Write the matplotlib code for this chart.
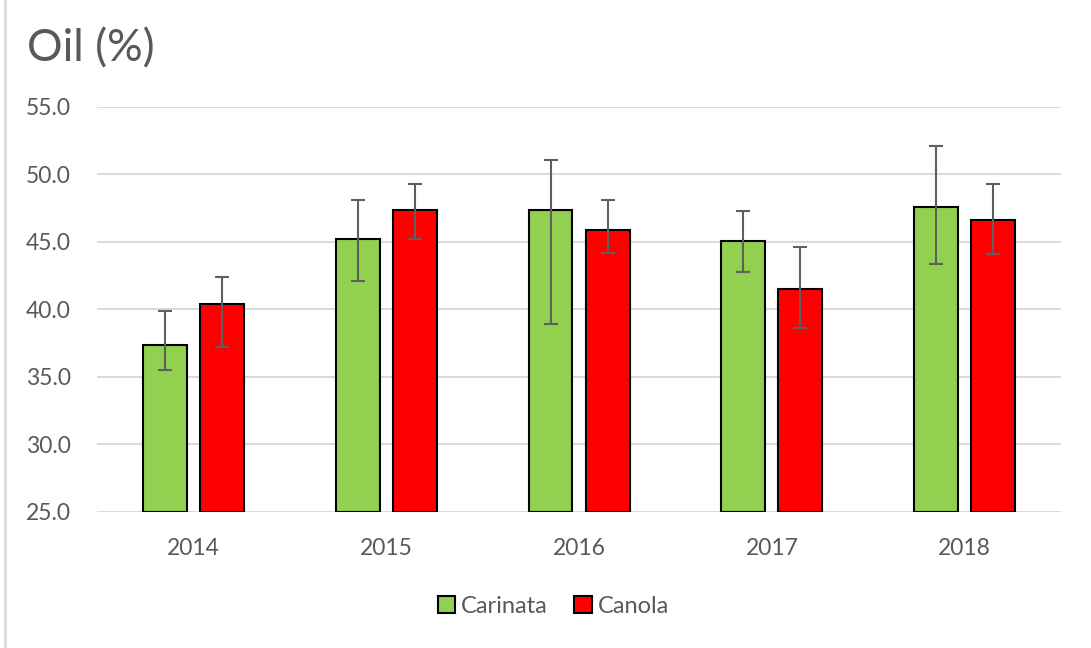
import matplotlib

matplotlib.use("Agg")
import matplotlib.pyplot as plt
import numpy as np
from matplotlib.patches import Patch

plt.rcParams["font.family"] = ["Lato", "DejaVu Sans"]

years = ["2014", "2015", "2016", "2017", "2018"]
carinata = [37.4, 45.2, 47.4, 45.1, 47.6]
carinata_lo = [35.5, 42.1, 38.9, 42.8, 43.4]
carinata_hi = [39.9, 48.1, 51.1, 47.3, 52.1]
canola = [40.4, 47.4, 45.9, 41.5, 46.6]
canola_lo = [37.2, 45.2, 44.2, 38.6, 44.1]
canola_hi = [42.4, 49.3, 48.1, 44.6, 49.3]

TEXT = "#595959"
GRID = "#d9d9d9"

fig = plt.figure(figsize=(10.91, 6.48), dpi=100)
ax = fig.add_axes([0.089, 0.2099, 0.8835, 0.625])

x = np.arange(len(years))
w = 0.228
off = 0.148

car = np.array(carinata)
can = np.array(canola)
car_err = [car - np.array(carinata_lo), np.array(carinata_hi) - car]
can_err = [can - np.array(canola_lo), np.array(canola_hi) - can]

err_kw = dict(ecolor="#5f5f5f", elinewidth=1.5, capsize=4.8, capthick=1.5)
ax.bar(x - off, car - 25, w, bottom=25, color="#92d050", edgecolor="black",
       linewidth=1.5, yerr=car_err, error_kw=err_kw, zorder=3)
ax.bar(x + off, can - 25, w, bottom=25, color="#ff0000", edgecolor="black",
       linewidth=1.5, yerr=can_err, error_kw=err_kw, zorder=3)

ax.set_xlim(-0.5, len(years) - 0.5)
ax.set_ylim(25, 55)
ax.set_yticks(np.arange(25, 55.1, 5))
ax.set_yticklabels([f"{v:.1f}" for v in np.arange(25, 55.1, 5)])
ax.set_xticks(x)
ax.set_xticklabels(years)
ax.tick_params(axis="both", length=0, labelsize=16.5, colors=TEXT)
ax.tick_params(axis="y", pad=19)
ax.tick_params(axis="x", pad=19)
ax.yaxis.grid(True, color=GRID, linewidth=1.4, zorder=0)
ax.set_axisbelow(True)
for s in ax.spines.values():
    s.set_visible(False)

fig.text(0.025, 0.925, "Oil (%)", fontsize=32, color=TEXT, ha="left", va="center")

handles = [Patch(facecolor="#92d050", edgecolor="black", linewidth=1.5, label="Carinata"),
           Patch(facecolor="#ff0000", edgecolor="black", linewidth=1.5, label="Canola")]
fig.legend(handles=handles, loc="center", bbox_to_anchor=(0.507, 0.064), ncol=2,
           frameon=False, fontsize=17, labelcolor=TEXT, handlelength=0.75,
           handleheight=0.75, handletextpad=0.25, columnspacing=1.1)

fig.add_artist(plt.Line2D([0.005, 0.005], [0, 1], transform=fig.transFigure,
                          color=GRID, linewidth=2))

fig.savefig("out.png", dpi=100)
